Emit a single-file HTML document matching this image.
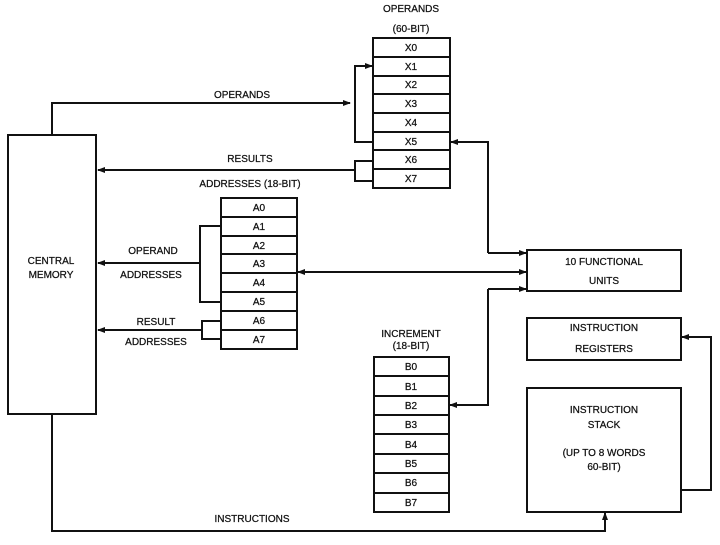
<!DOCTYPE html>
<html><head><style>
html,body{margin:0;padding:0;background:#fff}
svg text{font-family:"Liberation Sans",sans-serif;font-size:10px;fill:#111;stroke:#111;stroke-width:0.25}
</style></head><body>
<svg width="720" height="540" viewBox="0 0 720 540" xmlns="http://www.w3.org/2000/svg">
<defs>
<marker id="a" markerWidth="8" markerHeight="6" refX="7" refY="3" orient="auto" markerUnits="userSpaceOnUse"><path d="M0,0 L8,3 L0,6 z" fill="#111"/></marker>
</defs>
<g stroke="#111" stroke-width="2" fill="none">
<rect x="8" y="135" width="88" height="279"/>
<rect x="373" y="38" width="77" height="150"/>
<path d="M373,57H450M373,76H450M373,94H450M373,113H450M373,132H450M373,150H450M373,169H450"/>
<rect x="221" y="198" width="76" height="151"/>
<path d="M221,217H297M221,236H297M221,254H297M221,273H297M221,292H297M221,311H297M221,330H297"/>
<rect x="374" y="357" width="75" height="155"/>
<path d="M374,376H449M374,396H449M374,415H449M374,434H449M374,454H449M374,473H449M374,493H449"/>
<rect x="527" y="250" width="154" height="41"/>
<rect x="527" y="318" width="154" height="42"/>
<rect x="527" y="388" width="154" height="124"/>
<path d="M52,135V103H350" marker-end="url(#a)"/>
<path d="M373,142H355V66H373"/>
<path d="M355,66H372" marker-end="url(#a)"/>
<path d="M373,161H355V181H373"/>
<path d="M355,170H98" marker-end="url(#a)"/>
<path d="M221,226H200V302H221"/>
<path d="M200,263H98" marker-end="url(#a)"/>
<path d="M221,321H202V339H221"/>
<path d="M202,330H98" marker-end="url(#a)"/>
<path d="M527,272H298" marker-end="url(#a)"/>
<path d="M297,272H526" marker-end="url(#a)"/>
<path d="M488,253V142H451" marker-end="url(#a)"/>
<path d="M488,253H526" marker-end="url(#a)"/>
<path d="M488,289V405H450" marker-end="url(#a)"/>
<path d="M488,289H526" marker-end="url(#a)"/>
<path d="M681,490H711V337H682" marker-end="url(#a)"/>
<path d="M52,414V531H605V513" marker-end="url(#a)"/>
</g>
<g text-anchor="middle">
<text x="411" y="12">OPERANDS</text>
<text x="411" y="32">(60-BIT)</text>
<text x="411" y="51">X0</text><text x="411" y="70">X1</text><text x="411" y="88">X2</text><text x="411" y="107">X3</text><text x="411" y="126">X4</text><text x="411" y="145">X5</text><text x="411" y="163">X6</text><text x="411" y="182">X7</text>
<text x="242" y="98">OPERANDS</text>
<text x="250" y="162">RESULTS</text>
<text x="250" y="187">ADDRESSES (18-BIT)</text>
<text x="259" y="211">A0</text><text x="259" y="230">A1</text><text x="259" y="249">A2</text><text x="259" y="267">A3</text><text x="259" y="286">A4</text><text x="259" y="305">A5</text><text x="259" y="324">A6</text><text x="259" y="343">A7</text>
<text x="153" y="254">OPERAND</text>
<text x="151" y="278">ADDRESSES</text>
<text x="156" y="325">RESULT</text>
<text x="156" y="345">ADDRESSES</text>
<text x="51" y="264">CENTRAL</text>
<text x="51" y="278">MEMORY</text>
<text x="411" y="337">INCREMENT</text>
<text x="411" y="349">(18-BIT)</text>
<text x="411" y="370">B0</text><text x="411" y="390">B1</text><text x="411" y="409">B2</text><text x="411" y="428">B3</text><text x="411" y="448">B4</text><text x="411" y="467">B5</text><text x="411" y="486">B6</text><text x="411" y="506">B7</text>
<text x="604" y="265">10 FUNCTIONAL</text>
<text x="604" y="284">UNITS</text>
<text x="604" y="331">INSTRUCTION</text>
<text x="604" y="352">REGISTERS</text>
<text x="604" y="413">INSTRUCTION</text>
<text x="604" y="428">STACK</text>
<text x="604" y="456">(UP TO 8 WORDS</text>
<text x="604" y="470">60-BIT)</text>
<text x="252" y="522">INSTRUCTIONS</text>
</g>
</svg>
</body></html>
